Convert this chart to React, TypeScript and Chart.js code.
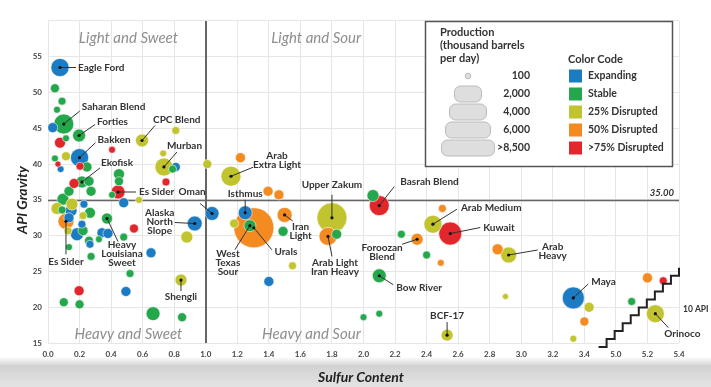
import { useEffect, useRef } from 'react';
import { Chart, registerables } from 'chart.js';

Chart.register(...registerables);

// Each entry: [sulfur content %, API gravity, production (thousand b/d), label key]
type Crude = [number, number, number, string?];

const expanding: Crude[] = [
  [0.076, 53.5, 1700, 'Eagle Ford'],
  [0.2, 40.9, 1700, 'Bakken'],
  [1.04, 33.1, 1000, 'Oman'],
  [0.93, 31.7, 1150, 'Alaska North Slope'],
  [1.25, 33.2, 1000, 'Isthmus'],
  [3.33, 21.3, 2500, 'Maya'],
  [0.03, 45.1, 520],
  [0.08, 39.3, 250],
  [0.81, 39.6, 420],
  [0.48, 34.6, 520],
  [0.146, 33.5, 740],
  [0.133, 32.5, 520],
  [0.228, 34.4, 330],
  [0.215, 31.6, 330],
  [0.184, 30.2, 870],
  [0.266, 28.8, 330],
  [0.342, 30.4, 520],
  [0.38, 30.3, 520],
  [0.653, 27.6, 520],
  [0.494, 22.2, 520],
  [1.4, 23.6, 520],
];

const stable: Crude[] = [
  [0.1, 45.6, 2070, 'Saharan Blend'],
  [0.197, 44.0, 870, 'Forties'],
  [0.215, 37.5, 740, 'Ekofisk'],
  [0.374, 32.4, 625, 'Heavy Louisiana Sweet'],
  [1.28, 31.4, 740, 'West Texas Sour'],
  [2.1, 24.4, 1000, 'Bow River'],
  [0.044, 50.6, 420],
  [0.089, 48.8, 330],
  [0.057, 47.6, 250],
  [0.114, 43.6, 250],
  [0.044, 40.8, 250],
  [0.247, 39.6, 520],
  [0.26, 37.6, 520],
  [0.133, 36.2, 520],
  [0.273, 36.2, 520],
  [0.45, 38.6, 625],
  [0.45, 37.6, 420],
  [0.406, 35.7, 250],
  [0.095, 35.1, 740],
  [0.089, 33.6, 330],
  [0.266, 33.2, 625],
  [0.222, 30.7, 520],
  [0.26, 29.3, 420],
  [0.323, 29.5, 250],
  [0.48, 29.8, 330],
  [0.133, 28.4, 250],
  [0.273, 27.1, 330],
  [0.52, 24.7, 330],
  [0.1, 20.7, 420],
  [0.2, 20.4, 420],
  [0.666, 19.1, 1000],
  [0.85, 18.6, 420],
  [0.79, 39.3, 330],
  [2.06, 35.6, 740],
  [1.49, 30.6, 520],
  [1.83, 30.2, 520],
  [2.24, 30.2, 330],
  [2.0, 18.6, 250],
  [2.1, 19.1, 250],
  [2.4, 27.3, 330],
  [5.1, 20.8, 330],
];

const disrupted25: Crude[] = [
  [0.596, 43.3, 870, 'CPC Blend'],
  [0.735, 39.6, 1670, 'Murban'],
  [0.843, 23.8, 740, 'Shengli'],
  [1.16, 38.3, 2070, 'Arab Extra Light'],
  [1.8, 32.5, 4650, 'Upper Zakum'],
  [2.53, 16.1, 740, 'BCF-17'],
  [2.44, 31.6, 1670, 'Arab Medium'],
  [2.92, 27.3, 1320, 'Arab Heavy'],
  [5.25, 19.1, 1670, 'Orinoco'],
  [0.81, 44.7, 330],
  [0.114, 41.1, 420],
  [0.73, 41.5, 250],
  [0.577, 35.0, 250],
  [0.057, 33.8, 740],
  [0.152, 34.4, 740],
  [0.222, 32.8, 330],
  [0.127, 30.7, 330],
  [0.88, 29.8, 740],
  [1.01, 40.0, 420],
  [1.18, 31.7, 420],
  [1.55, 25.8, 330],
  [2.9, 21.5, 190],
  [3.43, 20.0, 520],
  [3.33, 15.6, 250],
];

const disrupted50: Crude[] = [
  [0.114, 32.0, 1320, 'Es Sider B'],
  [1.305, 31.1, 8260, 'Urals'],
  [1.5, 32.9, 1160, 'Iran Light'],
  [1.775, 29.9, 1670, 'Arab Light Iran Heavy'],
  [2.34, 29.5, 740, 'Foroozan Blend'],
  [1.22, 40.9, 520],
  [1.395, 36.2, 520],
  [1.464, 35.7, 520],
  [2.5, 33.8, 330],
  [2.49, 26.2, 250],
  [2.85, 28.1, 625],
  [3.4, 18.0, 420],
  [5.2, 24.1, 520],
];

const disrupted75: Crude[] = [
  [0.444, 36.1, 1000, 'Es Sider A'],
  [2.1, 34.2, 2070, 'Basrah Blend'],
  [2.55, 30.3, 2730, 'Kuwait'],
  [0.076, 43.0, 625],
  [0.406, 42.0, 250],
  [0.063, 40.0, 190],
  [0.203, 39.7, 330],
  [0.165, 37.3, 520],
  [0.748, 37.5, 330],
  [0.545, 31.0, 420],
  [0.197, 22.3, 520],
  [5.3, 23.7, 330],
];

const statusNames = ['Expanding', 'Stable', '25% Disrupted', '50% Disrupted', '>75% Disrupted'];
const statusColors = ['#1b7cc3', '#24a84b', '#c1c42e', '#f38b20', '#e1272b'];
const statusData = [expanding, stable, disrupted25, disrupted50, disrupted75];

const sizeLegendValues = ['100', '2,000', '4,000', '6,000', '>8,500'];
const yTicks = [15, 20, 25, 30, 35, 40, 45, 50, 55];

// axis break: sulfur 5.0+ is drawn right after 3.4
const BREAK_SHIFT = 1.4;
const toAxis = (s: number) => (s >= 4.5 ? s - BREAK_SHIFT : s);
const radiusFor = (p: number) => 0.22 * Math.sqrt(p);

type LabelLayout = { lines: string[]; lead: [number, number]; text: [number, number]; align: CanvasTextAlign };
const labelLayout: Record<string, LabelLayout> = {
  'Eagle Ford': { lines: ['Eagle Ford'], lead: [16, 0], text: [18, 0], align: 'left' },
  'Saharan Blend': { lines: ['Saharan Blend'], lead: [16, -13], text: [18, -17], align: 'left' },
  Forties: { lines: ['Forties'], lead: [16, -11], text: [18, -14], align: 'left' },
  Bakken: { lines: ['Bakken'], lead: [16, -15], text: [18, -18], align: 'left' },
  Ekofisk: { lines: ['Ekofisk'], lead: [18, -14], text: [19, -19], align: 'left' },
  'CPC Blend': { lines: ['CPC Blend'], lead: [13, -15], text: [11, -21], align: 'left' },
  Murban: { lines: ['Murban'], lead: [13, -15], text: [3, -21], align: 'left' },
  'Es Sider A': { lines: ['Es Sider'], lead: [18, 0], text: [21, 0], align: 'left' },
  Oman: { lines: ['Oman'], lead: [-12, -10], text: [-20, -22], align: 'center' },
  'Alaska North Slope': { lines: ['Alaska', 'North', 'Slope'], lead: [-20, -1], text: [-35, -2], align: 'center' },
  'Heavy Louisiana Sweet': { lines: ['Heavy', 'Louisiana', 'Sweet'], lead: [11, 23], text: [15, 35], align: 'center' },
  'Es Sider B': { lines: ['Es Sider'], lead: [0, 33], text: [0, 40], align: 'center' },
  Shengli: { lines: ['Shengli'], lead: [0, 11], text: [0, 17], align: 'center' },
  Isthmus: { lines: ['Isthmus'], lead: [0, -13], text: [0, -19], align: 'center' },
  'West Texas Sour': { lines: ['West', 'Texas', 'Sour'], lead: [-15, 24], text: [-22, 37], align: 'center' },
  Urals: { lines: ['Urals'], lead: [18, 22], text: [32, 24], align: 'center' },
  'Iran Light': { lines: ['Iran', 'Light'], lead: [8, 6], text: [16, 16], align: 'center' },
  'Upper Zakum': { lines: ['Upper Zakum'], lead: [0, -23], text: [0, -33], align: 'center' },
  'Arab Light Iran Heavy': { lines: ['Arab Light', 'Iran Heavy'], lead: [4, 20], text: [7, 31], align: 'center' },
  'Basrah Blend': { lines: ['Basrah Blend'], lead: [15, -19], text: [21, -24], align: 'left' },
  'Arab Extra Light': { lines: ['Arab', 'Extra Light'], lead: [22, -9], text: [46, -16], align: 'center' },
  'Foroozan Blend': { lines: ['Foroozan', 'Blend'], lead: [-15, 5], text: [-35, 13], align: 'center' },
  'Bow River': { lines: ['Bow River'], lead: [14, 9], text: [17, 12], align: 'left' },
  'BCF-17': { lines: ['BCF-17'], lead: [0, -13], text: [0, -19], align: 'center' },
  'Arab Medium': { lines: ['Arab Medium'], lead: [24, -15], text: [28, -16], align: 'left' },
  Kuwait: { lines: ['Kuwait'], lead: [30, -6], text: [33, -6], align: 'left' },
  'Arab Heavy': { lines: ['Arab', 'Heavy'], lead: [29, -5], text: [44, -4], align: 'center' },
  Maya: { lines: ['Maya'], lead: [15, -14], text: [18, -16], align: 'left' },
  Orinoco: { lines: ['Orinoco'], lead: [13, 14], text: [27, 20], align: 'center' },
};

const FONT = 'Lato, "Open Sans", sans-serif';

type Pt = { x: number; y: number; r: number; key?: string; color: string };

export default function App() {
  const ref = useRef<HTMLCanvasElement | null>(null);

  useEffect(() => {
    if (!ref.current) return;
    const points: Pt[] = [];
    statusData.forEach((arr, i) => {
      arr.forEach((d) => {
        points.push({ x: toAxis(d[0]), y: d[1], r: radiusFor(d[2]), key: d[3], color: statusColors[i] });
      });
    });
    points.sort((a, b) => b.r - a.r);

    const overlay = {
      id: 'overlay',
      beforeDatasetsDraw(chart: any) {
        const { ctx, chartArea: a, scales } = chart;
        const xs = scales.x;
        const ys = scales.y;
        ctx.save();
        // quadrant captions
        ctx.font = `italic 15px ${FONT}`;
        ctx.fillStyle = '#8e8e8e';
        ctx.textAlign = 'center';
        ctx.textBaseline = 'middle';
        const quads: [string, number, number][] = [
          ['Light and Sweet', 0.51, 57.6],
          ['Light and Sour', 1.7, 57.6],
          ['Heavy and Sweet', 0.51, 16.2],
          ['Heavy and Sour', 1.67, 16.2],
        ];
        quads.forEach(([t, qx, qy]) => ctx.fillText(t, xs.getPixelForValue(qx), ys.getPixelForValue(qy)));
        // divider lines
        ctx.strokeStyle = '#666';
        ctx.lineWidth = 2;
        const vx = Math.round(xs.getPixelForValue(1.0));
        ctx.beginPath();
        ctx.moveTo(vx, a.top);
        ctx.lineTo(vx, a.bottom);
        ctx.stroke();
        ctx.lineWidth = 1.5;
        const hy = Math.round(ys.getPixelForValue(35)) + 0.5;
        ctx.beginPath();
        ctx.moveTo(a.left, hy);
        ctx.lineTo(a.right, hy);
        ctx.stroke();
        ctx.restore();
      },
      afterDatasetsDraw(chart: any) {
        const { ctx, chartArea: a, scales } = chart;
        const xs = scales.x;
        const ys = scales.y;
        ctx.save();
        // leader lines, dots, labels
        ctx.font = `bold 10px ${FONT}`;
        ctx.textBaseline = 'middle';
        points.forEach((p) => {
          if (!p.key) return;
          const L = labelLayout[p.key];
          if (!L) return;
          const cx = xs.getPixelForValue(p.x);
          const cy = ys.getPixelForValue(p.y);
          ctx.strokeStyle = '#333';
          ctx.lineWidth = 1;
          ctx.beginPath();
          ctx.moveTo(cx, cy);
          ctx.lineTo(cx + L.lead[0], cy + L.lead[1]);
          ctx.stroke();
          ctx.fillStyle = '#111';
          ctx.beginPath();
          ctx.arc(cx, cy, 1.6, 0, Math.PI * 2);
          ctx.fill();
          ctx.fillStyle = '#333';
          ctx.textAlign = L.align;
          const lh = 9;
          const n = L.lines.length;
          L.lines.forEach((t, i) => {
            ctx.fillText(t, cx + L.text[0], cy + L.text[1] + (i - (n - 1) / 2) * lh);
          });
        });
        // 35.00 caption
        ctx.font = `italic bold 9.5px ${FONT}`;
        ctx.fillStyle = '#333';
        ctx.textAlign = 'right';
        ctx.fillText('35.00', a.right - 5, ys.getPixelForValue(35) - 7);
        // 10 API staircase
        ctx.strokeStyle = '#222';
        ctx.lineWidth = 2;
        ctx.beginPath();
        let sx = 3.49;
        let sy = 14.45;
        ctx.moveTo(xs.getPixelForValue(sx), ys.getPixelForValue(sy));
        const steps = 10;
        const dx = (4.0 - 3.49) / steps;
        const dy = (25.5 - 14.45) / steps;
        for (let i = 0; i < steps; i++) {
          sx += dx;
          ctx.lineTo(xs.getPixelForValue(sx), ys.getPixelForValue(sy));
          sy += dy;
          ctx.lineTo(xs.getPixelForValue(sx), ys.getPixelForValue(sy));
        }
        ctx.stroke();
        ctx.font = `bold 8.5px ${FONT}`;
        ctx.textAlign = 'left';
        ctx.fillStyle = '#333';
        ctx.fillText('10 API', a.right + 4, ys.getPixelForValue(19.7));

        // legend box
        const bx = 425.5, by = 21.5, bw = 247, bh = 145;
        ctx.fillStyle = '#fff';
        ctx.fillRect(bx, by, bw, bh);
        ctx.strokeStyle = '#555';
        ctx.lineWidth = 1.5;
        ctx.strokeRect(bx, by, bw, bh);
        ctx.fillStyle = '#333';
        ctx.font = `bold 11px ${FONT}`;
        ctx.textAlign = 'left';
        ctx.fillText('Production', 440, 32);
        ctx.fillText('(thousand barrels', 440, 45);
        ctx.fillText('per day)', 440, 58);
        ctx.fillText('Color Code', 568, 59);
        const rowsY = [76, 94, 112, 130, 148];
        const pillW = [0, 27, 37, 45, 53];
        rowsY.forEach((ry, i) => {
          ctx.fillStyle = '#dedede';
          ctx.strokeStyle = '#bcbcbc';
          ctx.lineWidth = 1;
          ctx.beginPath();
          if (i === 0) {
            ctx.arc(468, ry, 2.8, 0, Math.PI * 2);
          } else {
            ctx.roundRect(468 - pillW[i] / 2, ry - 8, pillW[i], 16, 6);
          }
          ctx.fill();
          ctx.stroke();
          ctx.fillStyle = '#333';
          ctx.font = `bold 10.5px ${FONT}`;
          ctx.textAlign = 'right';
          ctx.fillText(sizeLegendValues[i], 530, ry);
          ctx.fillStyle = statusColors[i];
          ctx.fillRect(569, ry - 6.5, 13, 13);
          ctx.fillStyle = '#333';
          ctx.textAlign = 'left';
          ctx.fillText(statusNames[i], 588, ry);
        });

        // axis titles
        ctx.font = `italic bold 14px ${FONT}`;
        ctx.fillStyle = '#222';
        ctx.textAlign = 'center';
        ctx.fillText('Sulfur Content', 361, 377);
        ctx.translate(22, 200);
        ctx.rotate(-Math.PI / 2);
        ctx.fillText('API Gravity', 0, 0);
        ctx.restore();
      },
    };

    const chart = new Chart(ref.current, {
      type: 'bubble',
      data: {
        datasets: [
          {
            data: points.map((p) => ({ x: p.x, y: p.y, r: p.r })),
            backgroundColor: points.map((p) => p.color),
            borderColor: 'rgba(255,255,255,0.55)',
            borderWidth: 1,
          },
        ],
      },
      options: {
        responsive: false,
        animation: false,
        layout: { padding: { left: 0, right: 32, top: 16, bottom: 0 } },
        plugins: { legend: { display: false }, tooltip: { enabled: false } },
        scales: {
          x: {
            type: 'linear',
            min: 0,
            max: 4.0,
            afterFit: (s: any) => {
              s.height = 44;
            },
            ticks: {
              stepSize: 0.2,
              padding: 7,
              color: '#444',
              font: { family: FONT, size: 8, weight: 'bold' },
              maxRotation: 0,
              autoSkip: false,
              callback: (v: any) => {
                const n = Number(v);
                return (n > 3.5 ? n + BREAK_SHIFT : n).toFixed(1);
              },
            },
            grid: { color: '#e6e6e6', drawTicks: false },
            border: { display: false },
          },
          y: {
            type: 'linear',
            min: 15,
            max: 60,
            afterFit: (s: any) => {
              s.width = 48;
            },
            afterBuildTicks: (s: any) => {
              s.ticks = [...yTicks, 60].map((v) => ({ value: v }));
            },
            ticks: {
              padding: 6,
              color: '#444',
              font: { family: FONT, size: 8, weight: 'bold' },
              callback: (v: any) => (Number(v) >= 60 ? '' : String(v)),
            },
            grid: { color: '#e6e6e6', drawTicks: false },
            border: { display: false },
          },
        },
      },
      plugins: [overlay],
    });
    return () => chart.destroy();
  }, []);

  return (
    <div
      style={{
        position: 'absolute',
        left: 0,
        top: 0,
        width: 711,
        height: 387,
        background: 'linear-gradient(to bottom, #ffffff 0px, #ffffff 357px, #d2d2d2 366px, #e4e4e4 387px)',
      }}
    >
      <canvas ref={ref} width={711} height={387} style={{ width: 711, height: 387, display: 'block' }} />
    </div>
  );
}
